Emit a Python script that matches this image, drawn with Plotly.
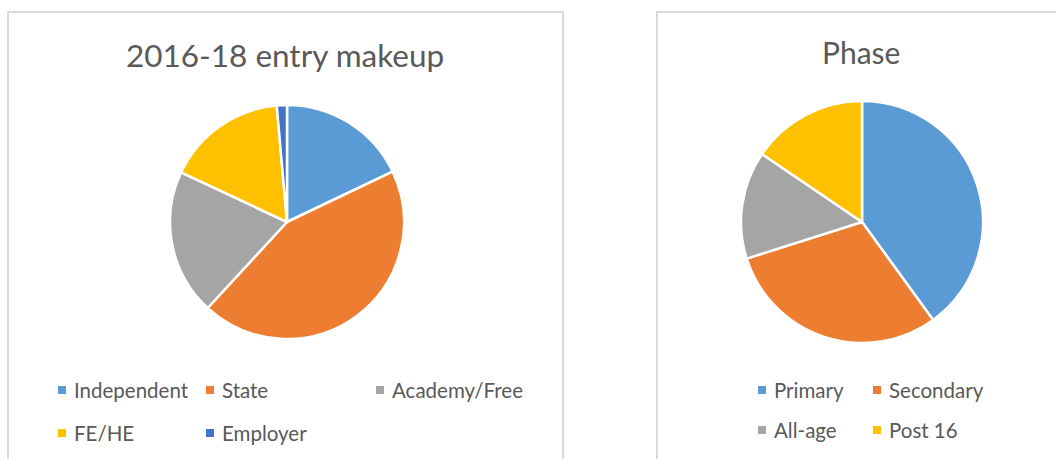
import plotly.graph_objects as go

# Data
entry_labels = ["Independent", "State", "Academy/Free", "FE/HE", "Employer"]
entry_values = [17.9, 43.9, 20.1, 16.6, 1.4]
entry_colors = ["#5B9BD5", "#ED7D31", "#A5A5A5", "#FFC000", "#4472C4"]

phase_labels = ["Primary", "Secondary", "All-age", "Post 16"]
phase_values = [40.0, 30.1, 14.4, 15.5]
phase_colors = ["#5B9BD5", "#ED7D31", "#A5A5A5", "#FFC000"]

W, H = 1056, 459
FONT = "Lato"
TXT = "#595959"


def px(x):
    return x / W


def py(y):
    return 1 - y / H


fig = go.Figure()
fig.add_trace(go.Pie(
    labels=entry_labels, values=entry_values, sort=False, direction="clockwise",
    rotation=0, marker=dict(colors=entry_colors, line=dict(color="white", width=2.5)),
    textinfo="none", showlegend=False,
    domain=dict(x=[px(170), px(404)], y=[py(339), py(105)]),
))
fig.add_trace(go.Pie(
    labels=phase_labels, values=phase_values, sort=False, direction="clockwise",
    rotation=0, marker=dict(colors=phase_colors, line=dict(color="white", width=2.5)),
    textinfo="none", showlegend=False,
    domain=dict(x=[px(741), px(983)], y=[py(343), py(101)]),
))

shapes = []
annotations = []

# Chart boxes
shapes.append(dict(type="rect", xref="paper", yref="paper", x0=px(8), x1=px(563),
                   y0=py(470), y1=py(12), line=dict(color="#D9D9D9", width=2)))
shapes.append(dict(type="rect", xref="paper", yref="paper", x0=px(657), x1=px(1070),
                   y0=py(470), y1=py(12), line=dict(color="#D9D9D9", width=2)))

# Titles
annotations.append(dict(text="2016-18 entry makeup", x=px(285), y=py(55), xref="paper", yref="paper",
                        xanchor="center", yanchor="middle", showarrow=False,
                        font=dict(family=FONT, size=31.5, color=TXT)))
annotations.append(dict(text="Phase", x=px(861), y=py(52), xref="paper", yref="paper",
                        xanchor="center", yanchor="middle", showarrow=False,
                        font=dict(family=FONT, size=30, color=TXT)))

# Legends (marker x, row y)
entry_pos = [(62, 390), (210, 390), (380, 390), (62, 433), (210, 433)]
phase_pos = [(762, 390), (877, 390), (762, 430), (877, 430)]


def add_legend(labels, colors, pos):
    for lab, col, (x, y) in zip(labels, colors, pos):
        shapes.append(dict(type="rect", xref="paper", yref="paper", x0=px(x - 4), x1=px(x + 4),
                           y0=py(y + 4), y1=py(y - 4), fillcolor=col, line=dict(width=0)))
        annotations.append(dict(text=lab, x=px(x + 10), y=py(y), xref="paper", yref="paper",
                                xanchor="left", yanchor="middle", showarrow=False,
                                font=dict(family=FONT, size=20.5, color=TXT)))


add_legend(entry_labels, entry_colors, entry_pos)
add_legend(phase_labels, phase_colors, phase_pos)

fig.update_layout(
    width=W, height=H, margin=dict(l=0, r=0, t=0, b=0),
    paper_bgcolor="white", plot_bgcolor="white",
    shapes=shapes, annotations=annotations,
)

fig.write_html("out.html", config={"displayModeBar": False},
               post_script="document.body.style.margin='0';document.body.style.overflow='hidden';")
